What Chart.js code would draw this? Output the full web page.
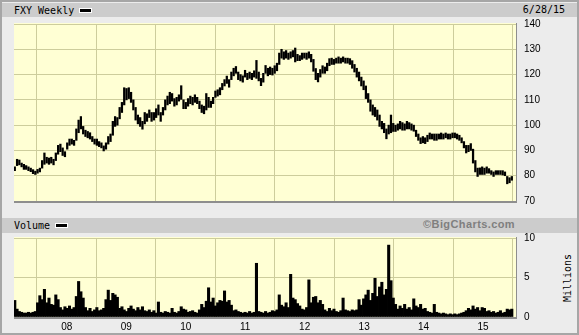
<!DOCTYPE html>
<html>
<head>
<meta charset="utf-8">
<script src="https://cdn.jsdelivr.net/npm/chart.js@4.4.1/dist/chart.umd.min.js"></script>
<style>
  html, body { margin: 0; padding: 0; }
  body { width: 579px; height: 335px; position: relative; overflow: hidden; background: #ececec; }
  #frame { position: absolute; left: 0; top: 0; width: 579px; height: 335px; box-sizing: border-box; border: 2px solid #a6a6a6; }
  .bar { position: absolute; left: 2px; width: 575px; background: #cccccc; font: 10px "DejaVu Sans Mono", monospace; color: #000; }
  .bar .lbl { position: absolute; left: 12px; top: 0; line-height: 15px; }
  .bar .swatch { display: inline-block; width: 11px; height: 3px; background: #000; border: 1px solid #fff; vertical-align: middle; margin-left: 5px; margin-top: -2px; }
  #date { position: absolute; right: 12px; top: 0; line-height: 14px; }
  #copy { position: absolute; right: 62px; top: 0; line-height: 15px; font: bold 11px "Liberation Sans", Arial, sans-serif; color: #7f7f7f; letter-spacing: 0.4px; }
  #millions { position: absolute; left: 567px; top: 278px; font: 10px "DejaVu Sans Mono", monospace; transform: translate(-50%, -50%) rotate(-90deg); white-space: nowrap; }
  canvas { position: absolute; left: 0; }
  #priceChart { top: 0; }
  #volumeChart { top: 210px; }
</style>
</head>
<body>
<div id="frame"></div>
<div class="bar" style="top:3px;height:14px;"><span class="lbl">FXY Weekly<span class="swatch"></span></span><span id="date">6/28/15</span></div>
<div class="bar" style="top:218px;height:15px;"><span class="lbl">Volume<span class="swatch"></span></span><span id="copy">©BigCharts.com</span></div>
<div id="millions">Millions</div>
<canvas id="priceChart" width="579" height="215"></canvas>
<canvas id="volumeChart" width="579" height="125"></canvas>
<script>
// FXY weekly, one sample every two weeks from 2/16/07 to 6/26/15
const firstWeek = '2007-02-16';
const yearTicks = [2008, 2009, 2010, 2011, 2012, 2013, 2014, 2015];
const priceTicks = [70, 80, 90, 100, 110, 120, 130, 140];
const volumeTicks = [0, 5, 10];

const priceLow = [
  82.0, 84.0, 84.3, 83.5, 82.5, 82.5, 82.0, 81.6, 80.8, 80.5, 81.0, 81.5, 83.0, 84.5, 85.0, 84.5, 85.0, 84.3, 86.0, 88.5, 89.5, 88.0, 87.5,
  90.5, 92.0, 92.5, 92.0, 94.0, 97.0, 98.5, 96.5, 95.5, 95.0, 94.5, 93.5, 92.5, 92.0, 91.5, 91.0, 89.8, 90.5, 92.5, 93.5, 96.0, 99.5, 100.0, 102.5, 105.0, 108.0,
  110.0, 110.5, 109.0, 106.0, 102.0, 100.5, 99.5, 98.4, 100.5, 101.5, 103.0, 101.5, 102.0, 103.0, 104.0, 101.5, 104.0, 106.0, 108.0, 108.5, 109.5, 107.5, 108.0, 109.5, 110.2, 106.5,
  106.5, 107.5, 108.5, 108.0, 109.0, 108.5, 106.5, 105.0, 104.5, 106.0, 107.0, 107.0, 108.5, 111.0, 111.5, 112.0, 114.0, 115.5, 116.5, 115.0, 118.0, 119.5, 120.5, 118.0, 117.5, 117.0,
  119.0, 118.0, 118.5, 118.0, 119.0, 118.5, 117.5, 115.6, 117.0, 120.5, 119.5, 120.0, 119.8, 120.5, 121.5, 124.0, 126.5, 126.0, 126.5, 126.0, 126.5, 127.0, 125.0, 125.5, 125.5, 126.0,
  126.5, 126.0, 126.5, 125.0, 121.3, 118.0, 117.1, 119.0, 120.5, 120.5, 121.5, 123.5, 124.0, 124.0, 124.5, 124.5, 124.5, 125.0, 124.5, 124.5, 124.0, 122.5, 121.0, 119.0, 117.5, 115.5,
  114.0, 110.5, 109.0, 105.5, 104.0, 103.4, 102.0, 99.5, 98.5, 97.0, 94.6, 96.5, 97.0, 97.5, 97.5, 98.0, 98.5, 98.0, 98.0, 98.5, 98.5, 98.0, 97.6, 95.5, 94.0, 92.7,
  93.0, 92.7, 93.5, 94.5, 94.5, 94.0, 94.0, 94.5, 94.5, 94.5, 95.0, 94.5, 94.5, 95.0, 95.0, 94.5, 94.0, 93.0, 91.0, 89.0, 89.5, 90.0, 85.0, 81.5, 79.7, 80.5,
  80.5, 80.5, 81.0, 81.0, 80.5, 79.7, 80.5, 80.5, 80.5, 80.3, 80.0, 76.8, 77.2, 78.2
];
const priceHigh = [
  83.5, 86.5, 86.2, 85.0, 84.5, 84.0, 83.5, 83.0, 82.4, 81.8, 82.5, 83.0, 86.0, 89.0, 87.3, 87.0, 87.3, 86.5, 89.0, 92.0, 92.5, 91.0, 89.5,
  93.0, 94.5, 94.5, 94.0, 98.5, 102.0, 103.4, 99.5, 98.0, 97.5, 97.0, 95.5, 94.5, 94.5, 93.5, 93.0, 91.8, 93.0, 95.5, 96.5, 101.5, 103.4, 103.0, 107.0, 109.0, 114.8,
  114.5, 114.8, 113.0, 110.0, 107.0, 104.0, 103.0, 101.5, 105.0, 104.5, 106.0, 105.0, 105.0, 106.5, 108.0, 105.0, 107.0, 110.0, 111.5, 113.0, 112.5, 110.5, 111.0, 112.0, 115.6, 110.0,
  109.0, 110.5, 111.5, 111.0, 112.0, 111.0, 109.5, 108.0, 107.5, 112.5, 111.0, 109.5, 111.0, 113.5, 114.0, 114.8, 116.5, 118.0, 119.4, 118.0, 121.0, 122.5, 123.2, 121.0, 120.0, 119.5,
  121.7, 120.5, 121.0, 120.5, 121.5, 125.6, 121.0, 118.5, 120.5, 123.6, 122.5, 123.0, 122.5, 123.5, 124.5, 128.5, 130.0, 129.0, 129.5, 128.5, 129.0, 129.5, 130.5, 128.0, 127.5, 128.5,
  128.5, 128.5, 129.0, 128.0, 126.0, 122.4, 120.5, 122.0, 123.5, 123.0, 124.5, 126.3, 126.5, 126.0, 126.5, 127.0, 126.5, 127.0, 126.5, 126.5, 126.3, 125.5, 124.0, 122.5, 121.0, 119.0,
  117.5, 115.5, 112.5, 110.0, 108.0, 107.0, 106.0, 104.0, 101.5, 100.7, 98.5, 100.0, 104.0, 100.7, 100.0, 100.5, 101.5, 101.0, 100.5, 101.5, 101.0, 100.5, 100.0, 98.0, 96.5, 95.0,
  95.5, 95.0, 96.0, 96.9, 96.5, 96.5, 96.5, 96.5, 96.9, 96.5, 96.9, 96.5, 96.5, 96.9, 96.9, 96.5, 96.0, 95.0, 93.5, 92.0, 92.0, 92.7, 90.5, 86.0, 83.0, 83.1,
  83.5, 83.0, 83.5, 82.8, 82.0, 81.5, 82.0, 82.0, 82.0, 82.0, 81.5, 79.7, 79.2, 79.7
];
// millions of shares
const volume = [
  2.1, 1.0, 0.7, 0.6, 0.5, 0.5, 0.6, 0.5, 0.6, 0.7, 1.8, 2.7, 2.2, 3.5, 1.8, 2.4, 1.6, 1.5, 2.8, 2.2, 1.2, 0.9, 1.3,
  1.1, 1.4, 1.0, 1.2, 2.6, 4.5, 3.2, 2.4, 1.2, 0.8, 1.1, 0.7, 0.9, 1.2, 0.8, 0.9, 1.1, 2.2, 3.4, 2.1, 3.0, 2.8, 2.5, 1.1, 1.3, 0.9,
  0.7, 1.1, 1.4, 1.0, 0.8, 1.2, 0.9, 1.3, 0.8, 0.7, 0.9, 0.6, 0.8, 0.5, 1.9, 0.6, 0.5, 0.7, 0.6, 0.5, 1.1, 0.6, 0.5, 0.7, 1.3, 1.0,
  0.9, 0.6, 0.7, 0.8, 0.6, 0.5, 0.9, 1.6, 1.2, 2.0, 3.7, 1.9, 2.4, 1.4, 1.8, 2.1, 2.0, 3.3, 1.9, 2.1, 1.5, 0.8, 0.9, 0.7, 0.6, 0.5,
  0.6, 0.5, 0.7, 0.5, 0.6, 6.8, 0.7, 0.6, 0.5, 0.7, 0.5, 0.6, 0.8, 0.7, 0.9, 2.8, 1.5, 1.3, 1.8, 1.2, 5.4, 2.4, 2.2, 1.7, 1.4, 1.0,
  0.9, 1.2, 4.7, 1.8, 2.5, 2.6, 1.8, 2.1, 1.6, 0.9, 0.7, 1.1, 0.8, 1.0, 0.7, 0.6, 0.8, 2.4, 0.9, 0.8, 0.7, 0.9, 0.8, 0.9, 2.2, 1.5,
  2.3, 2.8, 3.4, 2.1, 3.0, 4.9, 2.6, 3.8, 4.4, 2.8, 3.5, 9.1, 4.6, 2.4, 1.6, 1.0, 1.4, 1.1, 1.6, 1.0, 1.2, 0.9, 2.3, 1.4, 1.2, 1.6,
  1.0, 1.1, 0.7, 0.6, 0.5, 1.6, 0.6, 0.5, 0.4, 0.5, 0.4, 0.3, 0.4, 0.3, 0.4, 0.3, 0.4, 0.5, 0.6, 0.8, 1.1, 0.9, 1.4, 1.0, 1.2, 0.8,
  1.2, 1.1, 0.7, 0.8, 0.6, 0.7, 0.5, 0.6, 0.8, 0.5, 0.6, 1.0, 0.9, 1.0
];

// sample dates as fractional years
const DAY = 86400000;
const t0 = Date.parse(firstWeek);
const toYear = ms => 2008 + (ms - Date.UTC(2008, 0, 1)) / (365.25 * DAY);
const weeks = priceLow.map((_, i) => toYear(t0 + i * 14 * DAY));

const gridColor = '#cdcd9c';
const tickFont = { family: 'Liberation Sans', size: 10 };

const plotBackground = {
  id: 'plotBackground',
  beforeDraw(chart) {
    const { ctx, chartArea: a } = chart;
    ctx.save();
    ctx.fillStyle = '#ffffd4';
    ctx.fillRect(a.left, a.top - 1, a.width, a.height + 1);
    ctx.restore();
  },
  afterDraw(chart) {
    const { ctx, chartArea: a } = chart;
    ctx.save();
    ctx.fillStyle = '#8e8e8e';
    ctx.fillRect(a.left, a.bottom, a.width + 1, 2);
    ctx.fillRect(a.right, a.top - 1, 1, a.height + 1);
    ctx.restore();
  }
};

function xScale(showLabels) {
  return {
    type: 'linear',
    min: 2007.1135,
    max: 2015.553,
    offset: false,
    afterBuildTicks: s => { s.ticks = yearTicks.map(v => ({ value: v })); },
    afterFit: s => { s.height = showLabels ? 18 : 0; },
    grid: { color: gridColor, drawTicks: false },
    border: { display: false },
    ticks: {
      display: showLabels,
      autoSkip: false,
      maxRotation: 0,
      padding: 4,
      color: '#000',
      font: tickFont,
      callback: v => String(v % 100).padStart(2, '0')
    }
  };
}

function yScale(ticks) {
  return {
    type: 'linear',
    position: 'right',
    min: ticks[0],
    max: ticks[ticks.length - 1],
    afterBuildTicks: s => { s.ticks = ticks.map(v => ({ value: v })); },
    afterFit: s => { s.width = 63; },
    grid: { color: gridColor, drawTicks: false },
    border: { display: false },
    ticks: { padding: 8, color: '#000', font: tickFont, crossAlign: 'near' }
  };
}

const common = {
  responsive: false,
  animation: false,
  devicePixelRatio: 1,
  plugins: { legend: { display: false }, tooltip: { enabled: false } }
};

new Chart(document.getElementById('priceChart'), {
  type: 'bar',
  data: {
    datasets: [{
      data: weeks.map((x, i) => ({ x: x, y: [priceLow[i], priceHigh[i]] })),
      backgroundColor: '#000',
      borderWidth: 0,
      barThickness: 1.6
    }]
  },
  options: Object.assign({}, common, {
    layout: { padding: { left: 14, top: 24, right: 0, bottom: 8 } },
    scales: { x: xScale(false), y: yScale(priceTicks) }
  }),
  plugins: [plotBackground]
});

new Chart(document.getElementById('volumeChart'), {
  type: 'bar',
  data: {
    datasets: [{
      data: weeks.map((x, i) => ({ x: x, y: volume[i] })),
      backgroundColor: '#000',
      borderWidth: 0,
      barThickness: 2.4
    }]
  },
  options: Object.assign({}, common, {
    layout: { padding: { left: 14, top: 28, right: 0, bottom: 0 } },
    scales: { x: xScale(true), y: yScale(volumeTicks) }
  }),
  plugins: [plotBackground]
});
</script>
</body>
</html>
